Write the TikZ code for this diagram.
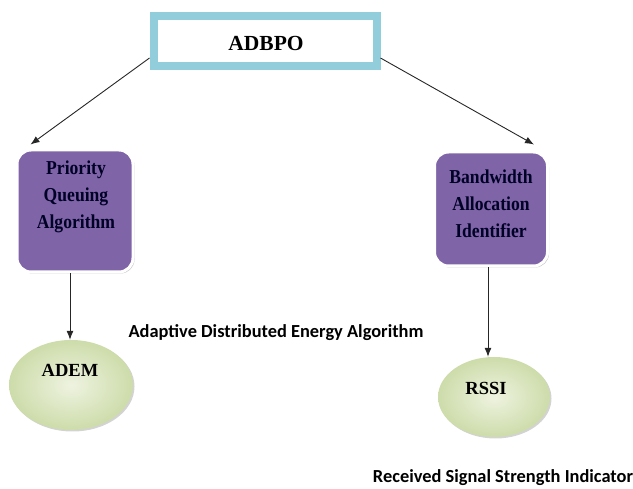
\documentclass[tikz,border=0pt]{standalone}
\usepackage{fontspec}
\setmainfont{Liberation Serif}
\newfontfamily\calib{Carlito}
\usetikzlibrary{arrows.meta,shadows,shapes.geometric}
\definecolor{boxblue}{RGB}{146,205,220}
\definecolor{boxpurple}{RGB}{128,100,168}
\definecolor{elgreen}{RGB}{205,220,170}
\definecolor{elgreenlt}{RGB}{238,243,224}
\tikzset{
  topbox/.style={draw=boxblue, line width=8pt, fill=white, minimum width=223pt, minimum height=50pt, inner sep=0pt},
  pbox/.style={draw=white, line width=3pt, fill=boxpurple, rounded corners=14pt, inner sep=0pt,
    drop shadow={opacity=0.45, shadow xshift=1.5pt, shadow yshift=-1.5pt}},
  ptext/.style={font=\bfseries\fontsize{17.6}{24}\selectfont, align=center, text=black!85!blue, inner sep=0pt,
    yscale=1.12, transform shape},
  gel/.style={ellipse, draw=none, inner sep=0pt, shading=radial, inner color=elgreenlt, outer color=elgreen,
    drop shadow={opacity=0.35, shadow xshift=1.5pt, shadow yshift=-1.5pt}},
  eltext/.style={font=\bfseries\fontsize{18.5}{20}\selectfont, inner sep=0pt},
  captext/.style={font=\calib\bfseries\fontsize{18.4}{20}\selectfont, inner sep=0pt},
  arr/.style={draw=black!85, line width=0.9pt, -{Latex[length=9pt,width=7pt]}}
}
\begin{document}
\begin{tikzpicture}[x=1pt,y=-1pt]
\useasboundingbox (0,0) rectangle (633,489);
\node[topbox] (adbpo) at (265,41) {};
\node[font=\bfseries\fontsize{21.5}{23}\selectfont, inner sep=0pt] (adbpot) at (266,43) {ADBPO};
\node[pbox, minimum width=116pt, minimum height=122pt] (pq) at (75,211) {};
\node[ptext] (pqt) at (76,197) {Priority\\Queuing\\Algorithm};
\node[pbox, minimum width=113pt, minimum height=114pt] (bw) at (491,209) {};
\node[ptext] (bwt) at (491,204) {Bandwidth\\Allocation\\Identifier};
\node[gel, minimum width=124pt, minimum height=90pt] (adem) at (71,385) {};
\node[eltext] (ademt) at (70,370) {ADEM};
\node[gel, minimum width=112pt, minimum height=80pt] (rssi) at (494,397) {};
\node[eltext] (rssit) at (486,388) {RSSI};
\node[captext] (ademl) at (276,333) {Adaptive Distributed Energy Algorithm};
\node[captext] (rssil) at (503,478) {Received Signal Strength Indicator};
\draw[arr] ([yshift=12pt]adbpo.south west) -- ([xshift=15pt,yshift=4pt]pq.north west);
\draw[arr] ([yshift=12pt]adbpo.south east) -- ([xshift=-15pt,yshift=6pt]bw.north east);
\draw[arr] ([xshift=-5pt]pq.south) coordinate (a1) -- (a1 |- adem.north);
\draw[arr] ([xshift=-3pt]bw.south) coordinate (b1) -- (b1 |- rssi.north);
\end{tikzpicture}
\end{document}
